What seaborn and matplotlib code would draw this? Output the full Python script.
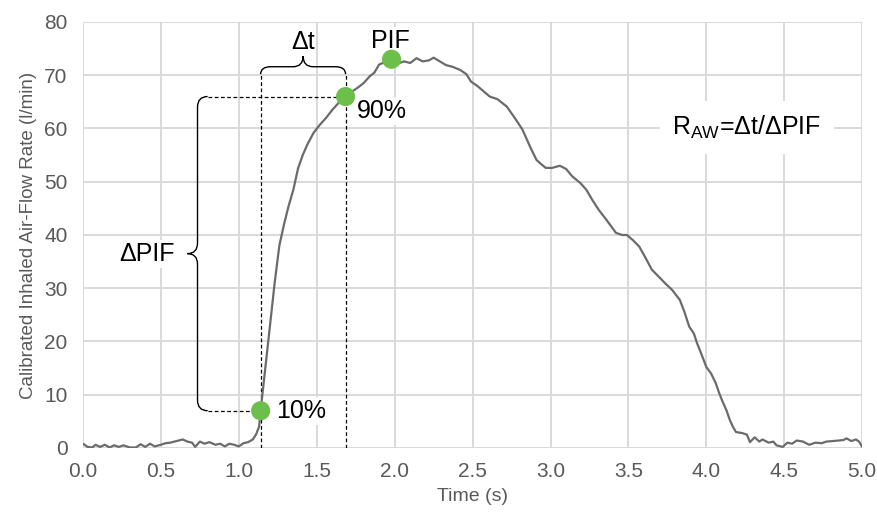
import matplotlib
matplotlib.use("Agg")
import matplotlib.pyplot as plt
import seaborn as sns
import pandas as pd
from matplotlib.path import Path
from matplotlib.patches import PathPatch

# flow curve
time_s = [0.00, 0.03, 0.06, 0.08, 0.11, 0.14, 0.17, 0.20, 0.23, 0.26, 0.30, 0.34, 0.37, 0.40,
          0.43, 0.46, 0.50, 0.53, 0.56, 0.60, 0.64, 0.67, 0.70, 0.72, 0.75, 0.78, 0.81, 0.85,
          0.88, 0.91, 0.94, 0.97, 1.00, 1.03, 1.06, 1.09, 1.11, 1.13, 1.14, 1.17, 1.20, 1.23,
          1.26, 1.29, 1.32, 1.35, 1.38, 1.41, 1.44, 1.48, 1.52, 1.56, 1.60, 1.64, 1.68, 1.72,
          1.76, 1.80, 1.84, 1.87, 1.90, 1.94, 1.98, 2.02, 2.06, 2.10, 2.14, 2.18, 2.22, 2.25,
          2.29, 2.33, 2.37, 2.42, 2.46, 2.49, 2.53, 2.57, 2.61, 2.66, 2.72, 2.77, 2.82, 2.87,
          2.91, 2.94, 2.97, 3.01, 3.06, 3.10, 3.14, 3.19, 3.23, 3.27, 3.31, 3.36, 3.42, 3.46,
          3.49, 3.53, 3.57, 3.61, 3.65, 3.70, 3.74, 3.78, 3.83, 3.86, 3.89, 3.92, 3.94, 3.97,
          4.00, 4.03, 4.06, 4.08, 4.10, 4.13, 4.15, 4.17, 4.19, 4.23, 4.26, 4.28, 4.31, 4.34,
          4.36, 4.40, 4.43, 4.45, 4.49, 4.52, 4.55, 4.58, 4.62, 4.66, 4.70, 4.74, 4.77, 4.81,
          4.85, 4.88, 4.90, 4.93, 4.96, 4.98, 5.00]
flow = [0.8, 0.2, 0.1, 0.6, 0.2, 0.6, 0.1, 0.5, 0.2, 0.5, 0.1, 0.1, 0.7, 0.2,
        0.8, 0.3, 0.6, 0.9, 1.0, 1.3, 1.6, 1.2, 1.0, 0.2, 1.2, 0.8, 1.1, 0.6,
        0.8, 0.3, 0.8, 0.6, 0.3, 0.9, 1.1, 1.6, 2.5, 4.0, 7.0, 15.0, 23.0, 31.0,
        38.0, 42.0, 45.5, 48.5, 52.5, 55.0, 57.0, 59.2, 60.7, 62.0, 63.5, 64.8, 66.0, 66.8,
        67.6, 68.5, 69.8, 70.5, 72.0, 72.5, 73.0, 72.2, 72.6, 72.3, 73.2, 72.6, 72.8, 73.3,
        72.6, 71.9, 71.6, 71.0, 70.2, 68.8, 68.0, 67.0, 66.0, 65.5, 64.1, 62.0, 59.8, 56.5,
        54.1, 53.3, 52.6, 52.6, 53.0, 52.4, 51.0, 49.8, 48.5, 46.5, 44.7, 42.8, 40.4, 40.0,
        40.0, 39.0, 37.8, 35.7, 33.5, 32.0, 30.8, 29.7, 27.8, 25.5, 22.8, 21.5, 19.7, 17.5,
        15.2, 14.0, 12.2, 10.5, 9.0, 7.0, 5.3, 4.0, 3.0, 2.8, 2.5, 1.1, 2.0, 1.2,
        1.6, 1.0, 1.2, 0.5, 0.2, 1.0, 0.8, 1.4, 1.2, 0.6, 1.0, 0.9, 1.2, 1.3,
        1.4, 1.5, 1.8, 1.3, 1.6, 1.2, 0.2]

# marked points: 10 %, 90 %, PIF
mark_t = [1.14, 1.685, 1.98]
mark_flow = [7.0, 66.0, 73.0]
mark_labels = ["10%", "90%", "PIF"]

sns.set_theme(style="white")
plt.rcParams["font.family"] = ["Liberation Sans", "DejaVu Sans"]

fig, ax = plt.subplots(figsize=(8.78, 5.2), dpi=100)
fig.subplots_adjust(left=0.0945, right=0.982, bottom=0.1385, top=0.9577)

grid_c = "#d9d9d9"
ax.set_axisbelow(True)
ax.grid(True, color=grid_c, linewidth=1.4)
for s in ax.spines.values():
    s.set_visible(False)

df = pd.DataFrame({"t": time_s, "q": flow})
sns.lineplot(data=df, x="t", y="q", ax=ax, color="#6b6b6b", linewidth=1.6, zorder=4)

t10, t90, tpk = mark_t
q10, q90, qpk = mark_flow

# dashed guides
dash = dict(color="black", linewidth=0.9, linestyle=(0, (3, 2)), zorder=3)
ax.plot([t10, t10], [0, 70.2], **dash)
ax.plot([t90, t90], [0, 70.2], **dash)
ax.plot([0.80, t90], [q90, q90], **dash)
ax.plot([0.80, t10], [q10, q10], **dash)

# curly braces
rx, ry = 0.065, 2.0
xb, ymid = 0.735, (q10 + q90) / 2
v_brace = [(0.80, q90), (xb, q90), (xb, q90 - ry),
           (xb, ymid + ry), (xb, ymid), (xb - rx, ymid),
           (xb, ymid), (xb, ymid - ry),
           (xb, q10 + ry), (xb, q10), (0.80, q10)]
codes = [Path.MOVETO, Path.CURVE3, Path.CURVE3,
         Path.LINETO, Path.CURVE3, Path.CURVE3,
         Path.CURVE3, Path.CURVE3,
         Path.LINETO, Path.CURVE3, Path.CURVE3]
ax.add_patch(PathPatch(Path(v_brace, codes), fill=False, lw=1.0, ec="black", zorder=3))

yb, xmid = 71.6, (t10 + t90) / 2
h_brace = [(t10, 70.2), (t10, yb), (t10 + rx, yb),
           (xmid - rx, yb), (xmid, yb), (xmid, yb + ry),
           (xmid, yb), (xmid + rx, yb),
           (t90 - rx, yb), (t90, yb), (t90, 70.2)]
ax.add_patch(PathPatch(Path(h_brace, codes), fill=False, lw=1.0, ec="black", zorder=3))

sns.scatterplot(x=mark_t, y=mark_flow, ax=ax, s=190, color="#6cbf4a", edgecolor="none", zorder=6)

box = dict(facecolor="white", edgecolor="none", pad=1.5)
txt = dict(fontsize=18, color="black", va="center", zorder=3)
ax.text(t10 + 0.1, q10, mark_labels[0], ha="left", bbox=box, **txt)
ax.text(t90 + 0.075, q90 - 2.8, mark_labels[1], ha="left", bbox=box, **txt)
ax.text(tpk - 0.01, qpk + 3.5, mark_labels[2], ha="center", bbox=box, **txt)
ax.text(xmid, 76.3, "Δt", ha="center", **txt)
ax.text(0.59, ymid, "ΔPIF", ha="right", bbox=box, **txt)
ax.text(4.26, 60.2, r"R$_{\mathregular{AW}}$=Δt/ΔPIF", ha="center",
        bbox=dict(facecolor="white", edgecolor="none", pad=9), **txt)

ax.set_xlim(0, 5.0)
ax.set_ylim(0, 80)
ax.set_xticks([i * 0.5 for i in range(11)])
ax.set_xticklabels([f"{i * 0.5:.1f}" for i in range(11)])
ax.set_yticks(range(0, 81, 10))
ax.tick_params(axis="y", length=7, color=grid_c, width=1.4, labelsize=15, labelcolor="#595959", pad=4)
ax.tick_params(axis="x", length=0, labelsize=15, labelcolor="#595959", pad=10)
ax.set_xlabel("Time (s)", fontsize=14, color="#595959", labelpad=5)
ax.set_ylabel("Calibrated Inhaled Air-Flow Rate (l/min)", fontsize=13.5, color="#595959", labelpad=5)

fig.savefig("out.png", dpi=100)
plt.close(fig)
